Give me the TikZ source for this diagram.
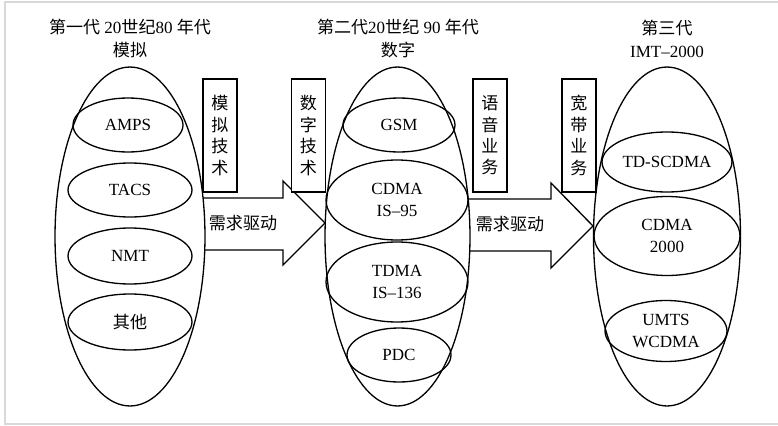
\documentclass[tikz,border=0pt]{standalone}
\usepackage{fontspec}
\setmainfont{Liberation Serif}
\newfontfamily\zhfont{Noto Sans CJK SC}
\newcommand\zh[1]{{\zhfont #1}}
\newcommand\picsize{\fontsize{9.7pt}{12.4pt}\selectfont}
\usetikzlibrary{shapes.geometric}
\begin{document}
\begin{tikzpicture}[x=0.02cm,y=-0.02cm,font=\picsize,
    gen/.style={draw,line width=0.75pt,fill=white,ellipse,inner sep=0pt,minimum height=6.78cm},
    std/.style={draw,line width=0.75pt,ellipse,inner sep=0pt,align=center},
    tag/.style={draw,line width=1.1pt,fill=white,inner sep=0pt,minimum width=0.68cm,minimum height=2.26cm,
        align=center,font=\fontsize{9.7pt}{12.2pt}\selectfont\zhfont},
    title/.style={align=center,font=\fontsize{9.7pt}{13pt}\selectfont},
    blockarrow/.style={draw,line width=0.75pt,fill=white}]
    \useasboundingbox (0,0) rectangle (778,426);
    \draw[gray!30,line width=1pt] (778,2) -- (5,2) -- (5,424) -- (778,424);
    % block arrows, their left ends vanish under the ellipses
    \draw[blockarrow] (190,198) -- (283,198) -- (283,181) -- (325,223) -- (283,265) -- (283,250) -- (190,250);
    \draw[blockarrow] (455,199) -- (551,199) -- (551,183) -- (593,226) -- (551,268) -- (551,251) -- (455,251);
    \node (need1) at (243,223) {\zh{需求驱动}};
    \node (need2) at (510,224) {\zh{需求驱动}};
    % generations
    \node[gen,minimum width=3cm] (gen1) at (130,236.5) {};
    \node[gen,minimum width=2.9cm] (gen2) at (397.5,236.5) {};
    \node[gen,minimum width=2.94cm] (gen3) at (667,236.5) {};
    \node[title] (title1) at (130,38.5) {\zh{第一代} 20\zh{世纪}80 \zh{年代}\\\zh{模拟}};
    \node[title] (title2) at (398,38.5) {\zh{第二代}20\zh{世纪} 90 \zh{年代}\\\zh{数字}};
    \node[title] (title3) at (667,38.5) {\zh{第三代}\\IMT–2000};
    % systems
    \node[std,minimum width=2.2cm,minimum height=1.08cm] (amps) at (128,125) {AMPS};
    \node[std,minimum width=2.48cm,minimum height=1.08cm] (tacs) at (130,190) {TACS};
    \node[std,minimum width=2.48cm,minimum height=1.12cm] (nmt) at (130,256) {NMT};
    \node[std,minimum width=2.48cm,minimum height=1.12cm] (other) at (130,322) {\zh{其他}};
    \node[std,minimum width=2.24cm,minimum height=1.08cm] (gsm) at (399,125) {GSM};
    \node[std,minimum width=2.84cm,minimum height=1.6cm] (is95) at (397,200) {CDMA\\IS–95};
    \node[std,minimum width=2.84cm,minimum height=1.6cm] (is136) at (397,282) {TDMA\\IS–136};
    \node[std,minimum width=2.08cm,minimum height=1.08cm] (pdc) at (399,355) {PDC};
    \node[std,minimum width=2.6cm,minimum height=1.2cm] (tdscdma) at (667,162) {TD-SCDMA};
    \node[std,minimum width=2.92cm,minimum height=1.58cm] (cdma2000) at (667,236) {CDMA\\2000};
    \node[std,minimum width=2.44cm,minimum height=1.22cm] (wcdma) at (666,331) {UMTS\\WCDMA};
    % labels
    \node[tag] (analog) at (220,135.5) {模\\拟\\技\\术};
    \node[tag] (digital) at (308.5,135.5) {数\\字\\技\\术};
    \node[tag] (voice) at (490,135.5) {语\\音\\业\\务};
    \node[tag] (broad) at (579,135.5) {宽\\带\\业\\务};
\end{tikzpicture}
\end{document}
